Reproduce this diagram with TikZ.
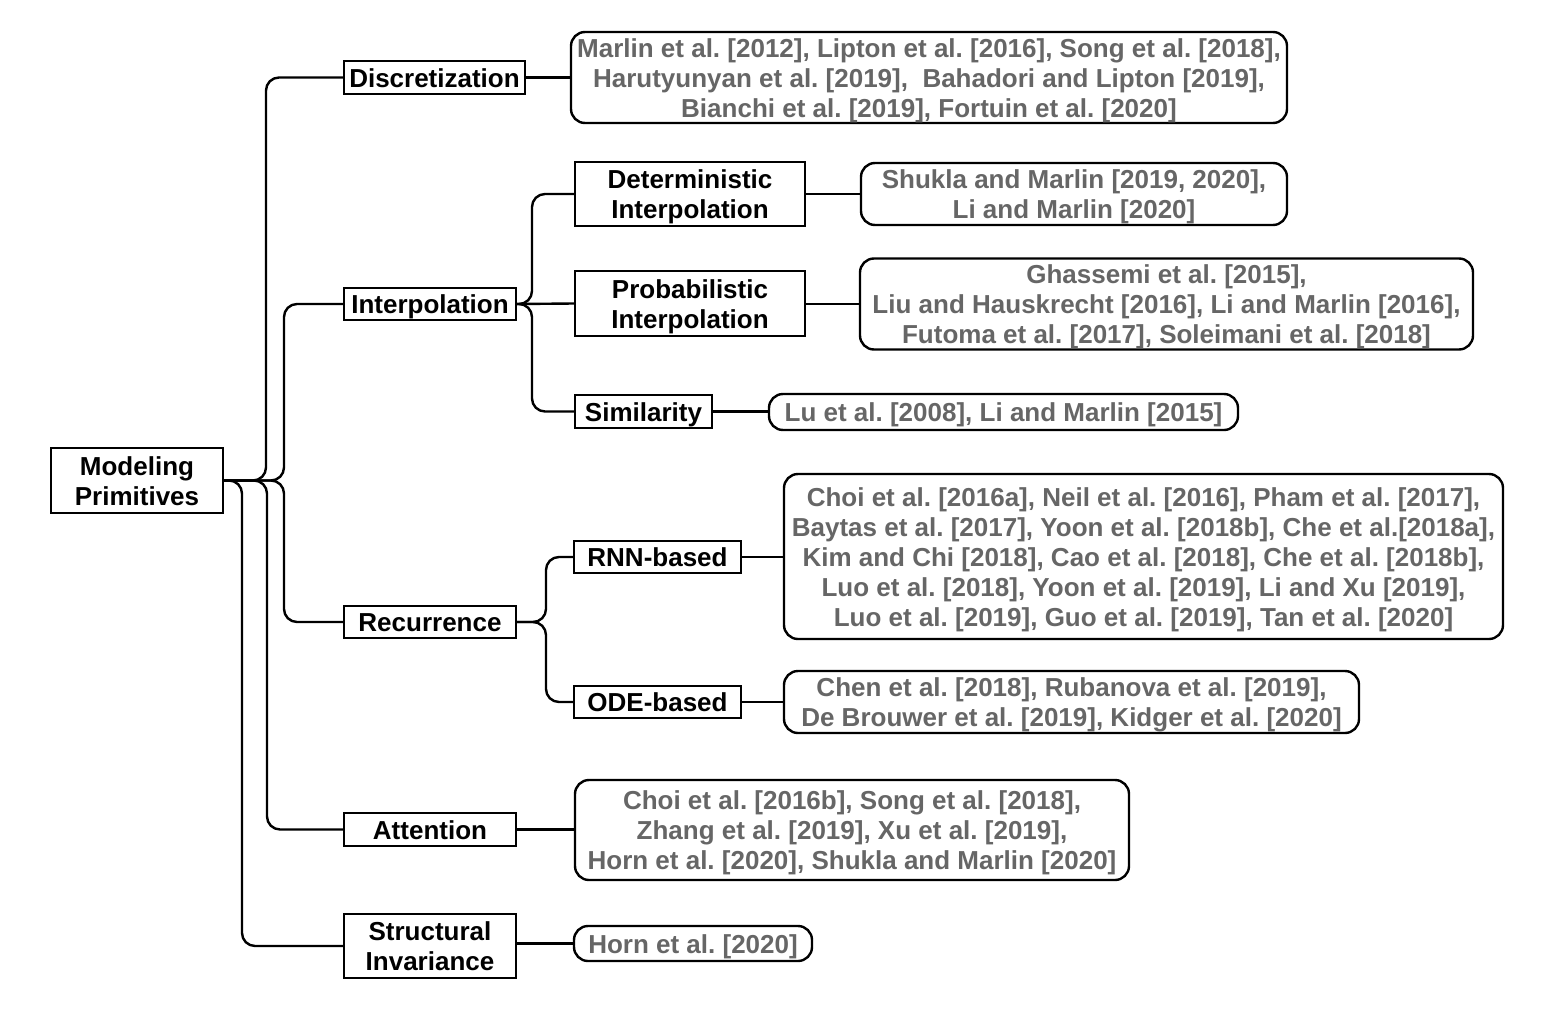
\documentclass[tikz,border=0pt]{standalone}
\usepackage{fontspec}
\setmainfont{Liberation Sans}
\frenchspacing
\definecolor{refgray}{HTML}{666666}
\newcommand{\firstl}{\rule{0pt}{25pt}}
\begin{document}
\begin{tikzpicture}[x=1pt,y=-1pt,
  txt/.style={font=\fontsize{26}{30}\selectfont\bfseries, align=center, inner sep=0pt,
    execute at begin node={\rule{0pt}{25pt}}, execute at end node={\rule[-6pt]{0pt}{6pt}}},
  cat/.style={txt, draw, line width=2.4pt},
  ref/.style={txt, draw, rounded corners=14pt, line width=2.4pt, text=refgray},
  conn/.style={line width=2.4pt, rounded corners=13pt}]
\useasboundingbox (0,0) rectangle (1550,1009);
% categories
\node[cat, minimum width=172, minimum height=65] (root) at (137,480.5) {\firstl Modeling\\Primitives};
\node[cat, minimum width=181, minimum height=33] (disc) at (434.5,77.5) {Discretization};
\node[cat, minimum width=172, minimum height=32] (interp) at (430,304) {Interpolation};
\node[cat, minimum width=172, minimum height=32] (recur) at (430,622) {Recurrence};
\node[cat, minimum width=172, minimum height=33] (att) at (430,829.5) {Attention};
\node[cat, minimum width=172, minimum height=64] (struct) at (430,946) {\firstl Structural\\Invariance};
\node[cat, minimum width=230, minimum height=64] (det) at (690,194) {\firstl Deterministic\\Interpolation};
\node[cat, minimum width=230, minimum height=65] (prob) at (690,303.5) {\firstl Probabilistic\\Interpolation};
\node[cat, minimum width=137, minimum height=33] (sim) at (643.5,411.5) {Similarity};
\node[cat, minimum width=167, minimum height=32] (rnn) at (657.5,557) {RNN-based};
\node[cat, minimum width=167, minimum height=32] (ode) at (657.5,702) {ODE-based};
% references
\node[ref, minimum width=716, minimum height=91] (discref) at (929,77.5) {\firstl Marlin et al. [2012], Lipton et al. [2016], Song et al. [2018],\\Harutyunyan et al. [2019],\ \ Bahadori and Lipton [2019],\\Bianchi et al. [2019], Fortuin et al. [2020]};
\node[ref, minimum width=426, minimum height=62] (detref) at (1074,194) {\firstl Shukla and Marlin [2019, 2020],\\Li and Marlin [2020]};
\node[ref, minimum width=613, minimum height=90] (probref) at (1166.5,304) {\firstl Ghassemi et al. [2015],\\Liu and Hauskrecht [2016], Li and Marlin [2016],\\Futoma et al. [2017], Soleimani et al. [2018]};
\node[ref, minimum width=469, minimum height=36] (simref) at (1003.5,412) {Lu et al. [2008], Li and Marlin [2015]};
\node[ref, minimum width=719, minimum height=165] (rnnref) at (1143.5,556.5) {\firstl Choi et al. [2016a], Neil et al. [2016], Pham et al. [2017],\\Baytas et al. [2017], Yoon et al. [2018b], Che et al.[2018a],\\Kim and Chi [2018], Cao et al. [2018], Che et al. [2018b],\\Luo et al. [2018], Yoon et al. [2019], Li and Xu [2019],\\Luo et al. [2019], Guo et al. [2019], Tan et al. [2020]};
\node[ref, minimum width=575, minimum height=62] (oderef) at (1071.5,702) {\firstl Chen et al. [2018], Rubanova et al. [2019],\\De Brouwer et al. [2019], Kidger et al. [2020]};
\node[ref, minimum width=554, minimum height=100] (attref) at (852,830) {\firstl Choi et al. [2016b], Song et al. [2018],\\Zhang et al. [2019], Xu et al. [2019],\\Horn et al. [2020], Shukla and Marlin [2020]};
\node[ref, minimum width=238, minimum height=35] (structref) at (693,943.5) {Horn et al. [2020]};
% bus coordinates
\coordinate (bd) at (266,480.5);
\coordinate (bi) at (284,480.5);
\coordinate (br) at (284,480.5);
\coordinate (ba) at (267,480.5);
\coordinate (bs) at (242,480.5);
\coordinate (ci) at (532,304);
\coordinate (cr) at (546,622);
% tree connectors
\draw[conn] (root.east) -- (bd) |- (disc.west);
\draw[conn] (root.east) -- (bi) |- (interp.west);
\draw[conn] (root.east) -- (br) |- (recur.west);
\draw[conn] (root.east) -- (ba) |- (att.west);
\draw[conn] (root.east) -- (bs) |- (struct.west);
\draw[conn] (interp.east) -- (ci) |- (det.west);
\draw[conn] (interp.east) -- (prob.west);
\draw[conn] (interp.east) -- (ci) |- (sim.west);
\draw[conn] (recur.east) -- (cr) |- (rnn.west);
\draw[conn] (recur.east) -- (cr) |- (ode.west);
% reference connectors
\draw[conn] (disc.east) -- (discref.west);
\draw[conn] (det.east) -- (detref.west);
\draw[conn] (prob.east |- probref.west) -- (probref.west);
\draw[conn] (sim.east) -- (sim.east -| simref.west);
\draw[conn] (rnn.east) -- (rnn.east -| rnnref.west);
\draw[conn] (ode.east) -- (oderef.west);
\draw[conn] (att.east) -- (att.east -| attref.west);
\draw[conn] (struct.east |- structref.west) -- (structref.west);
\end{tikzpicture}
\end{document}
